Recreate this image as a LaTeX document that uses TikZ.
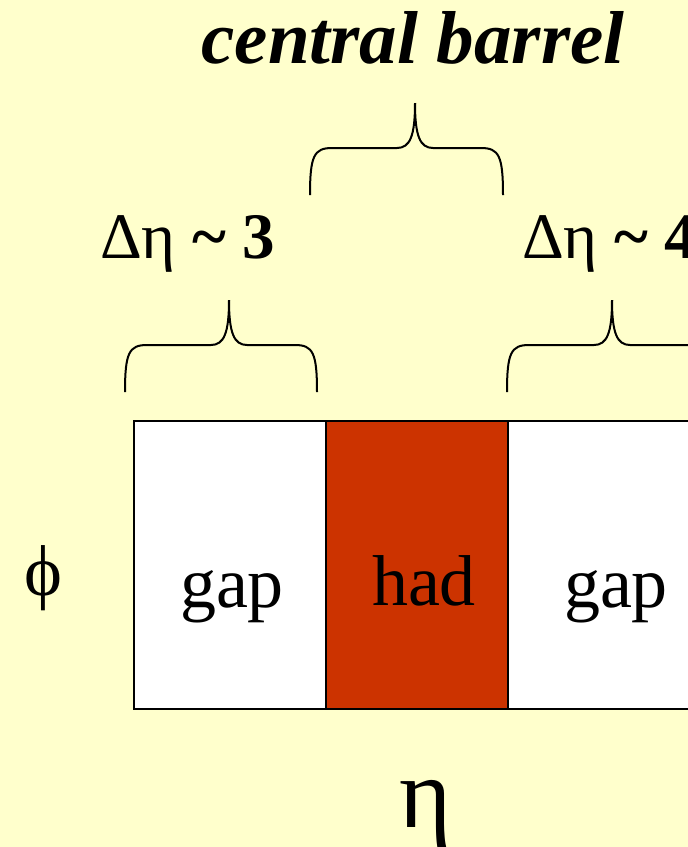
\documentclass[tikz,border=0pt]{standalone}
\usepackage{fontspec}
\setmainfont{Liberation Serif}
\definecolor{bgyellow}{HTML}{FFFFCC}
\definecolor{hadred}{HTML}{CC3300}
\begin{document}
\begin{tikzpicture}[x=1pt,y=-1pt,
  cell/.style={draw=black,line width=1.5pt},
  bracepath/.style={draw=black,line width=2pt},
  big/.style={font=\fontsize{72}{78}\selectfont,anchor=base,inner sep=0pt},
  lbl/.style={font=\fontsize{65}{70}\selectfont,anchor=base,inner sep=0pt}]
\useasboundingbox (0,0) rectangle (688,847);
\clip (0,0) rectangle (688,847);
\fill[bgyellow] (0,0) rectangle (688,847);
% cells
\draw[cell,fill=white] (134,421) rectangle (326,709);
\draw[cell,fill=hadred] (326,421) rectangle (508,709);
\draw[cell,fill=white] (508,421) rectangle (720,709);
\node[big] (gapl) at (232,607) {gap};
\node[big] (had) at (424,605) {had};
\node[big] (gapr) at (616,607) {gap};
% axis labels
\node[big] (phi) at (43,595) {ϕ};
\node[font=\fontsize{100}{106}\selectfont,anchor=base,inner sep=0pt] (eta) at (426,827) {η};
% title
\node[font=\fontsize{75}{80}\selectfont\bfseries\itshape,anchor=base,inner sep=0pt] (title) at (413,63) {central barrel};
% delta eta labels
\node[lbl,anchor=base west] (d3) at (100,258) {Δη \textbf{\char`\~\ 3}};
\node[lbl,anchor=base west] (d4) at (522,258) {Δη \textbf{\char`\~\ 4}};
% braces
\foreach \xa/\xc/\xb/\yb/\yh/\yt in {310/415/503/195/148/103, 125/229/317/392/345/300, 507/612/717/392/345/300}{
  \draw[bracepath] (\xa,\yb) .. controls (\xa,\yh+8) and (\xa+4,\yh) .. (\xa+22,\yh)
    -- (\xc-18,\yh) .. controls (\xc-5,\yh) and (\xc,\yh-12) .. (\xc,\yt);
  \draw[bracepath] (\xb,\yb) .. controls (\xb,\yh+8) and (\xb-4,\yh) .. (\xb-22,\yh)
    -- (\xc+18,\yh) .. controls (\xc+5,\yh) and (\xc,\yh-12) .. (\xc,\yt);
}
\end{tikzpicture}
\end{document}
